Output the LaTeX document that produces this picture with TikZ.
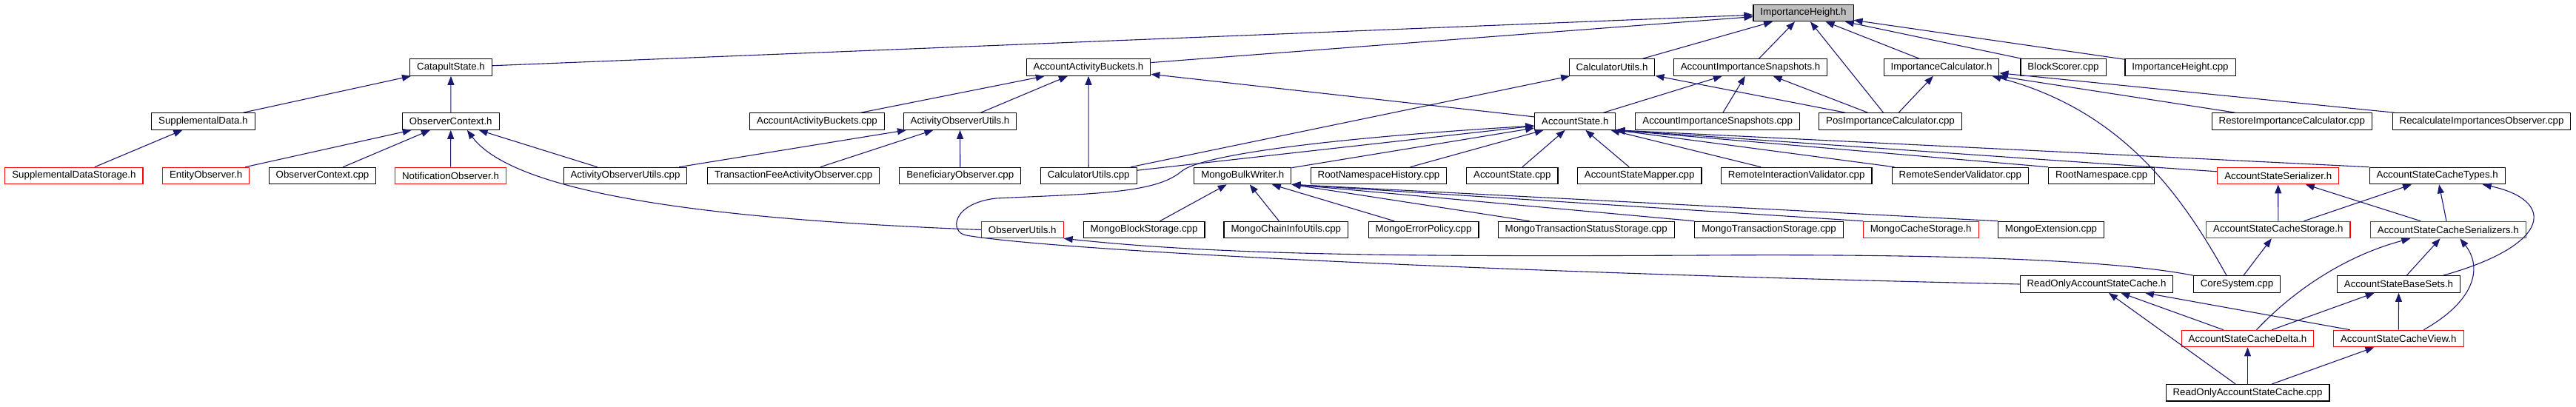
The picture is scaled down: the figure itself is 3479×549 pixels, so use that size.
\documentclass[tikz,border=0pt]{standalone}
\usepackage{fontspec}
\setmainfont{Liberation Sans}
\usetikzlibrary{arrows.meta}
\definecolor{edgeblue}{HTML}{191970}
\definecolor{rootgray}{HTML}{BFBFBF}

\begin{document}
\begin{tikzpicture}[x=1pt,y=-1pt,
    hfile/.style={draw=black,line width=1.1pt,fill=white,minimum height=22.5pt,inner xsep=9.5pt,inner ysep=0pt,font=\fontsize{13.3}{16}\selectfont},
    redfile/.style={hfile,draw=red},
    rootfile/.style={hfile,fill=rootgray},
    dep/.style={draw=edgeblue,line width=1.1pt,-{Triangle[length=12pt,width=9pt]}}]
          \useasboundingbox (0,0) rectangle (3479,549);
          % row 0
          \node[rootfile] (imph) at (2435.5,17.5) {ImportanceHeight.h};
          % row 1
          \node[hfile] (cats) at (609,91) {CatapultState.h};
          \node[hfile] (aabh) at (1470,91) {AccountActivityBuckets.h};
          \node[hfile] (calh) at (2177,91) {CalculatorUtils.h};
          \node[hfile] (aish) at (2364,91) {AccountImportanceSnapshots.h};
          \node[hfile] (icah) at (2622,91) {ImportanceCalculator.h};
          \node[hfile] (bsc) at (2786.5,91) {BlockScorer.cpp};
          \node[hfile] (ihc) at (2944.5,91) {ImportanceHeight.cpp};
          % row 2
          \node[hfile] (supd) at (274.4,164) {SupplementalData.h};
          \node[hfile] (ocxh) at (608.8,164) {ObserverContext.h};
          \node[hfile] (aabc) at (1103.5,164) {AccountActivityBuckets.cpp};
          \node[hfile] (aouh) at (1296.5,164) {ActivityObserverUtils.h};
          \node[hfile] (acsh) at (2127.3,164) {AccountState.h};
          \node[hfile] (aisc) at (2319.7,164) {AccountImportanceSnapshots.cpp};
          \node[hfile] (pic) at (2553,164) {PosImportanceCalculator.cpp};
          \node[hfile] (ric) at (3095.3,164) {RestoreImportanceCalculator.cpp};
          \node[hfile] (rio) at (3351.5,164) {RecalculateImportancesObserver.cpp};
          % row 3
          \node[redfile] (sds) at (99.9,237.5) {SupplementalDataStorage.h};
          \node[redfile] (eo) at (278.2,237.5) {EntityObserver.h};
          \node[hfile] (ocxc) at (435.5,237.5) {ObserverContext.cpp};
          \node[redfile] (no) at (608.5,237.5) {NotificationObserver.h};
          \node[hfile] (aouc) at (844.5,237.5) {ActivityObserverUtils.cpp};
          \node[hfile] (tfao) at (1071.8,237.5) {TransactionFeeActivityObserver.cpp};
          \node[hfile] (bo) at (1296.8,237.5) {BeneficiaryObserver.cpp};
          \node[hfile] (calc) at (1470.2,237.5) {CalculatorUtils.cpp};
          \node[hfile] (mbw) at (1678.3,237.5) {MongoBulkWriter.h};
          \node[hfile] (rnh) at (1862,237.5) {RootNamespaceHistory.cpp};
          \node[hfile] (acsc) at (2042.3,237.5) {AccountState.cpp};
          \node[hfile] (asm) at (2214.2,237.5) {AccountStateMapper.cpp};
          \node[hfile] (riv) at (2426.2,237.5) {RemoteInteractionValidator.cpp};
          \node[hfile] (rsv) at (2647.3,237.5) {RemoteSenderValidator.cpp};
          \node[hfile] (rn) at (2838.2,237.5) {RootNamespace.cpp};
          \node[redfile] (asser) at (3076.7,237.5) {AccountStateSerializer.h};
          \node[hfile] (asct) at (3291.7,237.5) {AccountStateCacheTypes.h};
          % row 4
          \node[redfile] (obsu) at (1380.8,310.5) {ObserverUtils.h};
          \node[hfile] (mbs) at (1545,310.5) {MongoBlockStorage.cpp};
          \node[hfile] (mciu) at (1736.8,310.5) {MongoChainInfoUtils.cpp};
          \node[hfile] (mep) at (1922.5,310.5) {MongoErrorPolicy.cpp};
          \node[hfile] (mtss) at (2142.2,310.5) {MongoTransactionStatusStorage.cpp};
          \node[hfile] (mts) at (2389,310.5) {MongoTransactionStorage.cpp};
          \node[redfile] (mcs) at (2594.2,310.5) {MongoCacheStorage.h};
          \node[hfile] (mext) at (2770,310.5) {MongoExtension.cpp};
          \node[redfile] (ascst) at (3076.8,310.5) {AccountStateCacheStorage.h};
          \node[redfile] (ascse) at (3306.3,310.5) {AccountStateCacheSerializers.h};
          % row 5
          \node[hfile] (roh) at (2831.5,384) {ReadOnlyAccountStateCache.h};
          \node[hfile] (csys) at (3021,384) {CoreSystem.cpp};
          \node[hfile] (asbs) at (3239.5,384) {AccountStateBaseSets.h};
          % row 6
          \node[redfile] (ascd) at (3035.5,457.5) {AccountStateCacheDelta.h};
          \node[redfile] (ascv) at (3239.3,457.5) {AccountStateCacheView.h};
          % row 7
          \node[hfile] (roc) at (3035.5,530.7) {ReadOnlyAccountStateCache.cpp};

          % includes of ImportanceHeight.h
          \draw[dep] (cats) -- (imph);
          \draw[dep] (aabh) -- (imph);
          \draw[dep] (calh) -- (imph);
          \draw[dep] (aish) -- (imph);
          \draw[dep] (pic) -- (imph);
          \draw[dep] (icah) -- (imph);
          \draw[dep] (bsc) -- (imph);
          \draw[dep] (ihc) -- (imph);
          \draw[dep] (supd) -- (cats);
          \draw[dep] (ocxh) -- (cats);
          \draw[dep] (sds) -- (supd);
          \draw[dep] (eo) -- (ocxh);
          \draw[dep] (ocxc) -- (ocxh);
          \draw[dep] (no) -- (ocxh);
          \draw[dep] (aouc) -- (ocxh);
          \draw[dep] (obsu.west) .. controls (1000,298) and (700,268) .. ([xshift=22pt]ocxh.south);
          \draw[dep] (aabc) -- (aabh);
          \draw[dep] (aouh) -- (aabh);
          \draw[dep] (calc) -- (aabh);
          \draw[dep] (acsh) -- (aabh);
          \draw[dep] (aouc) -- (aouh);
          \draw[dep] (tfao) -- (aouh);
          \draw[dep] (bo) -- (aouh);
          \draw[dep] (calc) -- (calh);
          \draw[dep] (pic) -- (calh);
          \draw[dep] (acsh) -- (aish);
          \draw[dep] (aisc) -- (aish);
          \draw[dep] (pic) -- (aish);
          \draw[dep] (pic) -- (icah);
          \draw[dep] (ric) -- (icah);
          \draw[dep] (rio) -- (icah);
          \draw[dep] ([xshift=-14pt]csys.north) .. controls (2950,270) and (2870,150) .. ([xshift=-10pt]icah.south east);
          % includes of AccountState.h
          \draw[dep] (calc) -- (acsh);
          \draw[dep] (roh.west) .. controls (2000,368) and (1420,338) .. (1305,318)
                .. controls (1282,314) and (1285,275) .. (1345,268)
                .. controls (1470,262) and (1560,262) .. (1595,232)
                .. controls (1630,202) and (1900,180) .. ([yshift=-6pt]acsh.west);
          \draw[dep] (mbw) -- (acsh);
          \draw[dep] (rnh) -- (acsh);
          \draw[dep] (acsc) -- (acsh);
          \draw[dep] (asm) -- (acsh);
          \draw[dep] (riv) -- (acsh);
          \draw[dep] (rsv) -- (acsh.south east);
          \draw[dep] (rn.north west) -- (acsh.south east);
          \draw[dep] (asser) -- (acsh.south east);
          \draw[dep] (asct.north west) -- (acsh.south east);
          \draw[dep] (mbs) -- (mbw);
          \draw[dep] (mciu) -- (mbw);
          \draw[dep] (mep) -- (mbw);
          \draw[dep] (mtss) -- (mbw.south east);
          \draw[dep] (mts.north west) -- (mbw.south east);
          \draw[dep] (mcs.north west) -- (mbw.south east);
          \draw[dep] (mext.north west) -- (mbw.south east);
          \draw[dep] (csys.north west) .. controls (2850,350) and (2600,343) .. (2300,345)
                .. controls (1900,347) and (1650,345) .. (obsu.south east);
          % cache headers
          \draw[dep] (ascst) -- (asser);
          \draw[dep] (ascse) -- (asser);
          \draw[dep] (ascst) -- (asct);
          \draw[dep] (ascse) -- (asct);
          \draw[dep] ([xshift=60pt]asbs.north) .. controls (3450,330) and (3450,270) .. ([xshift=61pt]asct.south);
          \draw[dep] (csys) -- (ascst);
          \draw[dep] ([xshift=12pt]ascd.north) .. controls (3100,390) and (3170,345) .. ([xshift=-51pt]ascse.south);
          \draw[dep] (asbs) -- (ascse);
          \draw[dep] ([xshift=34pt]ascv.north) .. controls (3345,405) and (3352,360) .. ([xshift=16pt]ascse.south);
          \draw[dep] (roc) -- (roh);
          \draw[dep] (ascd) -- (roh);
          \draw[dep] (ascv) -- (roh);
          \draw[dep] (ascd) -- (asbs);
          \draw[dep] (ascv) -- (asbs);
          \draw[dep] (roc) -- (ascd);
          \draw[dep] (roc) -- (ascv);
\end{tikzpicture}
\end{document}
